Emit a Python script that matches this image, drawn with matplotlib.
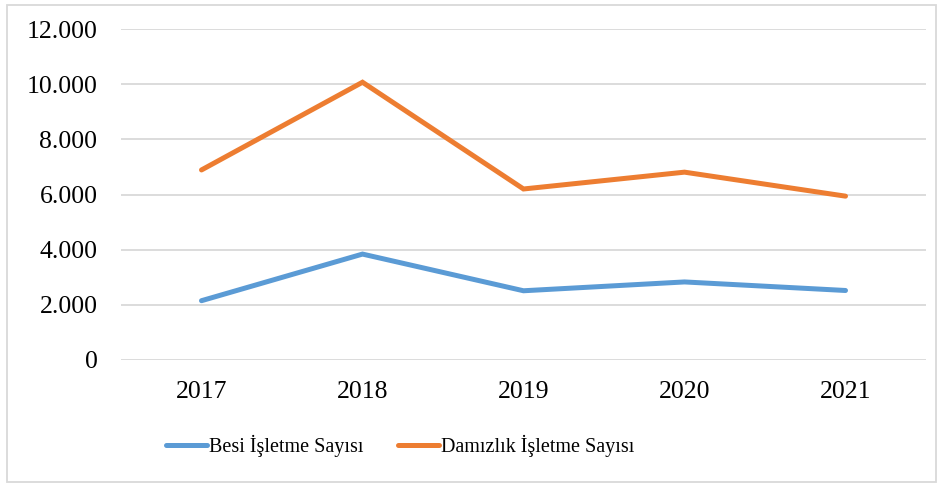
import matplotlib
matplotlib.use("Agg")
import matplotlib.pyplot as plt
from matplotlib.patches import Rectangle

years = ["2017", "2018", "2019", "2020", "2021"]
besi = [2150, 3840, 2510, 2830, 2520]
damizlik = [6890, 10070, 6200, 6810, 5940]
yticks = [0, 2000, 4000, 6000, 8000, 10000, 12000]
ytick_labels = ["0", "2.000", "4.000", "6.000", "8.000", "10.000", "12.000"]

plt.rcParams['font.family'] = ['Liberation Serif', 'DejaVu Serif']
fs = 18.5
lfs = 14.5

fig = plt.figure(figsize=(9.42, 4.86), dpi=100)
ax = fig.add_axes([121/942, 1-360/486, (926-121)/942, (360-29)/486])

x = range(len(years))
l1, = ax.plot(x, besi, color="#5B9BD5", lw=3.6, solid_capstyle="round", solid_joinstyle="miter", label="Besi İşletme Sayısı")
l2, = ax.plot(x, damizlik, color="#ED7D31", lw=3.6, solid_capstyle="round", solid_joinstyle="miter", label="Damızlık İşletme Sayısı")

ax.set_xlim(-0.5, len(years)-0.5)
ax.set_ylim(0, 12000)
ax.set_yticks(yticks)
ax.set_yticklabels(ytick_labels, fontsize=fs)
ax.set_xticks(list(x))
ax.set_xticklabels(years, fontsize=fs)
ax.tick_params(axis='both', length=0)
ax.tick_params(axis='y', pad=17)
ax.tick_params(axis='x', pad=15)
for s in ax.spines.values():
    s.set_visible(False)
ax.grid(axis='y', color="#D9D9D9", lw=1.3)
ax.set_axisbelow(True)

leg = fig.legend(handles=[l1, l2], loc="center", bbox_to_anchor=(400/942, 1-446/486),
                 ncol=2, frameon=False, fontsize=lfs, handlelength=2.05,
                 handletextpad=0.1, columnspacing=1.7)

fig.patches.append(Rectangle((7/942, 4/486), (936-7)/942, (481-4)/486,
                             transform=fig.transFigure, fill=False,
                             edgecolor="#D9D9D9", lw=1.3))

fig.savefig("out.png", dpi=100, facecolor="white")
